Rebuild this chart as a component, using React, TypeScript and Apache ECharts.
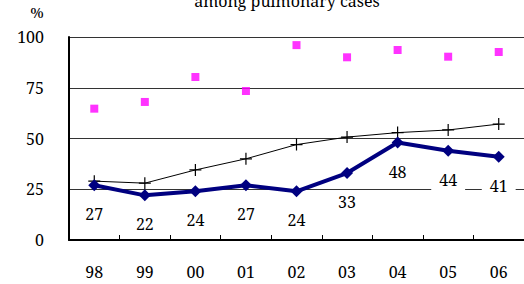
import React, { useEffect, useRef } from "react";
import * as echarts from "echarts";

const categories = ["98", "99", "00", "01", "02", "03", "04", "05", "06"];
const magentaValues = [64.7, 68, 80.3, 73.4, 96, 90, 93.6, 90.3, 92.6];
const blackValues = [29, 28, 34.5, 40, 47, 50.7, 52.9, 54.2, 57.1];
const blueValues = [27, 22, 24, 27, 24, 33, 48, 44, 41];
const yTicks = [0, 25, 50, 75, 100];
const titleText = "among pulmonary cases";
const unitText = "%";

const FONT = "Noto Serif";
const PLUS = "path://M5.4,0H6.6V5.4H12V6.6H6.6V12H5.4V6.6H0V5.4H5.4Z";

export default function App() {
  const ref = useRef<HTMLDivElement>(null);
  useEffect(() => {
    if (!ref.current) return;
    const chart = echarts.init(ref.current, null, { renderer: "svg" });
    chart.setOption({
      animation: false,
      backgroundColor: "#fff",
      textStyle: { fontFamily: FONT },
      grid: { left: 69, top: 37, width: 457, height: 203, containLabel: false },
      graphic: [
        {
          type: "text",
          x: 287,
          y: 1,
          style: {
            text: titleText,
            fontFamily: FONT,
            fontSize: 16,
            fill: "#000",
            align: "center",
            verticalAlign: "middle",
          },
        },
        {
          type: "text",
          x: 37,
          y: 12,
          style: {
            text: unitText,
            fontFamily: FONT,
            fontSize: 15,
            fill: "#000",
            align: "center",
            verticalAlign: "middle",
          },
        },
      ],
      xAxis: {
        type: "category",
        data: categories,
        boundaryGap: true,
        axisLine: { show: true, lineStyle: { color: "#000", width: 2 } },
        axisTick: { show: true, inside: true, length: 5, lineStyle: { color: "#000", width: 1 } },
        axisLabel: { color: "#000", fontFamily: FONT, fontSize: 16, margin: 24 },
        splitLine: { show: false },
      },
      yAxis: {
        type: "value",
        min: 0,
        max: 100,
        interval: 25,
        axisLine: { show: true, lineStyle: { color: "#000", width: 2 } },
        axisTick: { show: false },
        axisLabel: {
          color: "#000",
          fontFamily: FONT,
          fontSize: 16,
          margin: 25,
          formatter: (v: number) => (yTicks.includes(v) ? String(v) : ""),
        },
        splitLine: { show: true, lineStyle: { color: "#333", width: 1 } },
      },
      series: [
        {
          type: "scatter",
          data: magentaValues,
          symbol: "rect",
          symbolSize: 8,
          itemStyle: { color: "#FF00FF" },
          z: 3,
        },
        {
          type: "line",
          data: blackValues,
          symbol: PLUS,
          symbolSize: 12,
          showAllSymbol: true,
          lineStyle: { color: "#000", width: 1 },
          itemStyle: { color: "#000" },
          z: 4,
        },
        {
          type: "line",
          data: blueValues,
          symbol: "diamond",
          symbolSize: 12,
          showAllSymbol: true,
          lineStyle: { color: "#000080", width: 4 },
          itemStyle: { color: "#000080" },
          label: {
            show: true,
            position: "bottom",
            distance: 12,
            color: "#000",
            fontFamily: FONT,
            fontSize: 16,
            lineHeight: 16,
            backgroundColor: "#fff",
            padding: [3, 8],
          },
          z: 5,
        },
      ],
    });
    return () => chart.dispose();
  }, []);
  return (
    <div
      ref={ref}
      style={{ position: "fixed", left: 0, top: 0, width: 524, height: 284 }}
    />
  );
}
